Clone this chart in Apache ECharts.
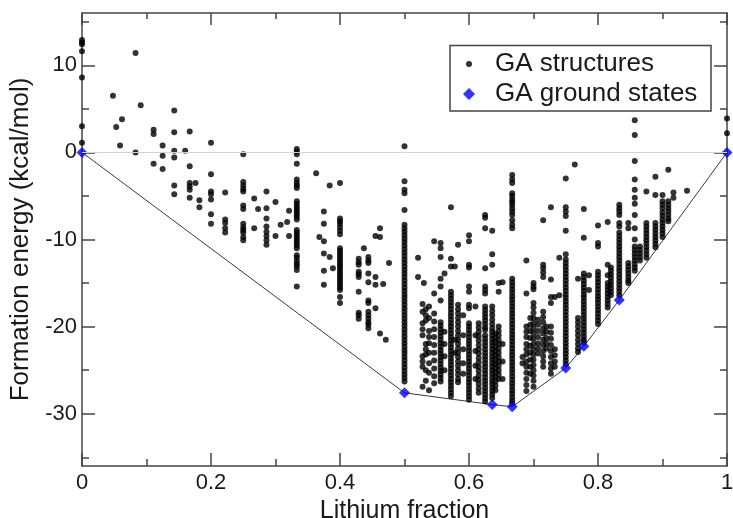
<!DOCTYPE html>
<html><head><meta charset="utf-8">
<script src="https://cdn.jsdelivr.net/npm/echarts@6/dist/echarts.min.js"></script>
<style>html,body{margin:0;padding:0;background:#fff}#c{width:733px;height:518px}</style>
</head><body><div id="c"></div>
<script>
// ---- data ----
const xTicks = [0, 0.2, 0.4, 0.6, 0.8, 1];
const yMajorTicks = [-30, -20, -10, 0, 10];
const yMinorTicks = [-35, -25, -15, -5, 5, 15];
const legendNames = ['GA structures', 'GA ground states'];

// compositions of GA structures (Li fraction)
const structX = [
  0, 0.048, 0.053, 0.059, 0.062, 0.083, 0.091, 0.111, 0.125, 0.143,
  0.16, 0.167, 0.176, 0.182, 0.2, 0.222, 0.25, 0.267, 0.273, 0.286,
  0.3, 0.308, 0.318, 0.321, 0.333, 0.363, 0.368, 0.375, 0.384, 0.389,
  0.4, 0.429, 0.437, 0.444, 0.455, 0.462, 0.467, 0.471, 0.476, 0.5,
  0.521, 0.53, 0.528, 0.533, 0.538, 0.546, 0.556, 0.562, 0.572, 0.578,
  0.583, 0.591, 0.6, 0.61, 0.615, 0.625, 0.636, 0.641, 0.646, 0.652,
  0.667, 0.683, 0.689, 0.695, 0.7, 0.707, 0.715, 0.72, 0.727, 0.733,
  0.74, 0.75, 0.764, 0.769, 0.778, 0.786, 0.8, 0.815, 0.82, 0.833,
  0.847, 0.857, 0.865, 0.875, 0.889, 0.9, 0.909, 0.917, 0.938, 1
];
// formation energies (kcal/mol) of GA structures, one list per composition
const structE = [
  [12.9, 12.6, 12.4, 11.6, 8.6, 3.0, 1.1],
  [6.5], [2.9], [0.8], [3.8], [11.4, 0.0], [5.4],
  [2.6, 2.1, -1.3],
  [0.8, -0.4, -1.9],
  [4.8, 2.3, 0.2, -0.6, -3.8, -4.8],
  [0.2],
  [2.4, -1.6, -3.5, -3.9, -4.3, -5.2],
  [-3.5],
  [-5.5, -6.3],
  [1.1, -2.5, -4.5, -4.8, -5.4, -7.1, -8.2],
  [-4.6, -7.7, -8.1, -8.7, -9.2],
  [-0.2, -3.4, -3.8, -4.2, -4.5, -6.1, -6.5, -8.2, -8.6, -8.9, -9.2, -9.7, -10.1],
  [-5.3, -8.7],
  [-6.5],
  [-4.5, -6.4, -7.6, -8.5, -9.1, -9.6, -10.1, -10.6],
  [-5.7, -9.6],
  [-8.3],
  [-8.0],
  [-6.7, -9.6],
  [0.4, 0.1, -0.2, -1.3, -3.1, -3.5, -3.8, -4.1, -5.6, -5.9, -6.2, -6.5, -6.8, -7.1, -7.4, -7.7, -8.9, -9.2, -9.5, -9.8, -10.1, -10.4, -10.7, -11.0, -11.8, -12.1, -12.5, -12.8, -13.1, -13.5, -15.4],
  [-2.4],
  [-9.7],
  [-6.8, -8.2, -10.2, -11.6, -13.6, -15.2],
  [-3.8, -12.0],
  [-13.3],
  [-3.5, -7.6, -7.9, -8.2, -8.6, -9.0, -9.4, -11.0, -11.3, -11.6, -11.9, -12.2, -12.5, -12.8, -13.1, -13.4, -13.7, -14.0, -14.3, -14.6, -14.9, -15.2, -15.5, -15.8, -16.6, -17.3],
  [-12.2, -12.6, -12.9, -13.7, -14.0, -14.3, -16.0, -18.4, -18.7, -19.1],
  [-11.0],
  [-12.0, -12.4, -12.7, -13.9, -14.9, -17.0, -17.3, -18.3, -18.7, -19.1, -19.5, -19.8, -20.2],
  [-9.6, -14.3, -15.2, -17.9],
  [-8.7, -9.7, -20.8],
  [-15.1],
  [-21.5],
  [-12.7],
  [0.7, -3.3, -4.3, -4.7, -6.6, -8.3, -8.7, -9.1, -9.5, -9.9, -10.3, -10.7, -11.1, -11.5, -11.9, -12.3, -12.7, -13.1, -13.5, -13.9, -14.3, -14.7, -15.1, -15.5, -15.9, -16.3, -16.7, -17.1, -17.5, -17.9, -18.3, -18.7, -19.1, -19.5, -19.9, -20.3, -20.7, -21.1, -21.5, -21.9, -22.3, -22.7, -23.1, -23.5, -23.9, -24.3, -24.7, -25.1, -25.5, -25.9, -26.3],
  [-12.1, -14.3],
  [-15.0],
  [-17.4, -18.3, -19.6, -20.3, -21.0, -23.4, -24.0, -24.6, -26.9],
  [-18.0, -18.7, -19.3, -22.0, -22.6, -23.2, -25.0, -26.2],
  [-17.7, -19.0, -20.5, -21.2, -21.9, -23.0, -24.2, -25.3, -27.3],
  [-10.2, -16.2, -18.5, -19.4, -20.3, -21.2, -22.1, -23.0, -23.9, -24.8, -25.7, -26.5],
  [-10.4, -11.0, -12.0, -14.5, -15.4, -17.0, -19.5, -19.9, -20.3, -20.7, -21.1, -21.5, -21.9, -22.3, -22.7, -23.1, -23.5, -23.9, -24.3, -24.7, -25.1, -25.5, -25.9, -26.3],
  [-13.9, -20.6, -22.0, -23.4, -25.0],
  [-6.3, -12.2, -13.1, -16.0, -16.4, -16.8, -17.2, -17.6, -18.0, -18.4, -18.8, -19.2, -19.6, -20.0, -20.4, -20.8, -21.2, -21.6, -22.0, -22.4, -22.8, -23.2, -23.6, -24.0, -24.4, -24.8, -25.2, -25.6, -26.0, -26.4, -26.8, -27.2, -27.6, -28.0],
  [-13.1, -21.5, -23.0],
  [-10.6, -17.5, -18.0, -18.5, -19.0, -19.5, -20.0, -20.5, -21.0, -21.5, -22.0, -22.5, -23.0, -23.5, -24.0, -24.5, -25.0, -25.5, -26.0, -26.4],
  [-18.7, -21.0, -22.6, -24.2, -25.4],
  [-9.5, -10.2, -12.9, -13.2, -15.4, -16.0, -17.5, -17.9, -19.6, -20.0, -20.4, -20.8, -21.2, -21.6, -22.0, -22.4, -22.8, -23.2, -23.6, -24.0, -24.4, -24.8, -25.2, -25.6, -26.0, -26.4, -26.8, -27.2, -27.6, -28.0, -28.4],
  [-17.7, -21.0, -22.8, -24.5, -26.0],
  [-19.6, -20.1, -20.6, -21.1, -21.6, -22.1, -22.6, -23.1, -23.6, -24.1, -24.6, -25.1, -25.6, -26.1, -26.6, -27.1, -27.6],
  [-7.2, -7.5, -8.7, -13.3, -15.4, -15.8, -16.2, -17.7, -18.1, -18.5, -18.9, -19.3, -19.7, -20.1, -20.4, -21.0, -21.4, -21.8, -22.2, -22.6, -23.0, -23.4, -23.8, -24.2, -24.6, -25.0, -25.4, -25.8, -26.2, -26.6, -27.0, -27.4, -27.8, -28.2, -28.6],
  [-9.0, -11.7, -12.9, -17.7, -18.2, -18.7, -19.2, -19.7, -20.2, -20.6, -21.0, -21.4, -21.8, -22.2, -22.6, -23.0, -23.4, -23.8, -24.2, -24.6, -25.0, -25.4, -25.8, -26.2, -26.6, -27.0, -27.4, -27.8, -28.2],
  [-20.8, -21.3, -21.8, -22.3, -22.8, -23.3, -23.8, -24.3, -24.8, -25.3, -25.8, -26.3, -26.8, -27.3],
  [-15.0, -16.0, -20.0, -20.5, -21.0, -21.5, -22.0, -22.5, -23.0, -23.5, -24.0, -24.5, -25.0, -25.5, -26.0],
  [-14.9, -22.0, -24.0, -26.0],
  [-2.6, -3.1, -3.5, -4.7, -5.0, -5.4, -5.7, -6.0, -6.4, -6.8, -7.2, -7.8, -8.3, -8.7, -14.5, -14.9, -15.3, -15.7, -16.1, -16.5, -16.9, -17.3, -17.7, -18.1, -18.5, -18.9, -19.3, -19.7, -20.1, -20.5, -20.9, -21.3, -21.7, -22.1, -22.5, -22.9, -23.3, -23.7, -24.1, -24.5, -24.9, -25.3, -25.7, -26.1, -26.5, -26.9, -27.3, -27.7, -28.1, -28.5, -28.8],
  [-23.5, -24.2],
  [-12.4, -16.2, -20.0, -20.6, -21.2, -22.0, -22.6, -23.2, -24.0, -24.6, -25.3, -26.0, -26.7, -27.4],
  [-19.0, -19.8, -20.5, -21.3, -22.2, -23.0, -23.8, -24.6, -25.4],
  [-15.0, -15.4, -15.7, -17.3, -17.8, -18.4, -19.0, -19.6, -20.2, -20.8, -21.4, -22.0, -22.6, -23.2, -23.8, -24.4, -25.0, -25.6, -26.2, -26.9],
  [-19.2, -19.8, -20.5, -21.2, -21.9, -22.5, -23.1],
  [-7.8, -12.9, -13.3, -13.8, -14.3, -18.3, -18.9, -19.5, -20.2, -20.8, -21.5, -22.1, -22.8, -23.4, -24.0, -24.6],
  [-20.0, -20.6, -21.3, -21.9, -22.5],
  [-6.3, -14.6, -16.6, -17.3, -20.0, -20.7, -21.4, -22.1, -22.8, -23.5, -24.2, -24.8, -25.4],
  [-16.6, -22.6, -23.3, -24.0, -24.6],
  [-12.1, -16.4],
  [-3.0, -6.3, -6.8, -7.3, -9.0, -11.7, -12.3, -12.7, -13.1, -13.5, -13.9, -14.3, -14.7, -15.1, -15.5, -15.9, -16.3, -16.7, -17.1, -17.5, -17.9, -18.3, -18.7, -19.1, -19.5, -19.9, -20.3, -20.7, -21.1, -21.5, -21.9, -22.3, -22.7, -23.1, -23.5, -23.9, -24.3],
  [-1.4],
  [-14.5, -19.0, -19.5, -20.0, -20.5, -21.0, -21.5, -22.0, -22.5, -22.9],
  [-6.5, -9.8, -13.9, -14.3, -14.7, -15.1, -15.5, -15.9, -16.3, -16.7, -17.1, -17.5, -17.9, -18.3, -18.7, -19.1, -19.5, -19.9, -20.3, -20.7, -21.1, -21.5, -21.8],
  [-14.1, -15.8],
  [-8.4, -10.4, -10.8, -13.7, -14.1, -14.5, -14.9, -15.3, -15.7, -16.1, -16.5, -16.9, -17.3, -17.7, -18.1, -18.5, -18.9, -19.3, -19.7],
  [-8.0, -12.9, -14.1, -15.0, -15.4, -15.8, -16.2, -16.6, -17.0, -17.4, -17.8],
  [-13.2, -13.6, -14.0, -14.4, -14.8, -15.2, -15.6, -16.0, -16.4],
  [-6.0, -6.4, -6.8, -7.2, -8.1, -8.5, -9.2, -9.6, -10.0, -10.4, -10.8, -11.2, -11.6, -12.0, -12.4, -12.8, -13.2, -13.6, -14.0, -14.4, -14.8, -15.2, -15.6, -16.0, -16.4],
  [-8.1, -8.7, -12.7, -13.1, -13.5, -13.9, -14.3, -14.7, -15.0],
  [3.7, 2.0, -1.0, -3.1, -4.3, -5.2, -5.9, -7.2, -8.7, -10.0, -10.8, -11.2, -11.6, -12.0, -12.4, -12.8, -13.2, -13.6],
  [-10.8, -11.2, -11.6, -12.0, -12.4],
  [-4.5, -8.1, -8.5, -8.9, -9.3, -9.7, -10.1, -10.5, -10.9, -11.3, -11.7, -12.1],
  [-2.8, -4.9, -8.1, -8.5, -8.9, -9.3, -9.7, -10.1, -10.5, -10.9],
  [-4.9, -5.6, -6.0, -6.4, -6.9, -7.3, -7.7, -8.1, -8.5, -8.9, -9.3, -9.7],
  [-2.0, -5.6, -6.0, -6.4, -6.8, -7.2, -7.6, -7.9],
  [-4.6, -5.2],
  [-4.4],
  [3.9, 2.2]
];

// GA ground states (convex hull vertices)
const groundX = [0, 0.5, 0.636, 0.667, 0.75, 0.778, 0.833, 1];
const groundE = [0, -27.6, -28.95, -29.2, -24.75, -22.25, -16.95, 0];

// ---- build chart ----
const structData = [];
structX.forEach((x, i) => structE[i].forEach(e => structData.push([x, e])));
const groundData = groundX.map((x, i) => [x, groundE[i]]);

const FONT = '"Liberation Sans", Arial, Helvetica, sans-serif';
const lineSt = { color: '#444', width: 1.5 };
const TXT = '#1a1a1a';

function xAx(pos, major, minor, labels) {
  return {
    type: 'value', position: pos, min: 0, max: 1, interval: 0.2,
    axisLine: { show: true, onZero: false, lineStyle: lineSt },
    axisTick: { show: true, inside: true, length: major, lineStyle: lineSt },
    minorTick: { show: true, splitNumber: 2, length: minor, lineStyle: lineSt },
    axisLabel: labels ? { show: true, fontSize: 22, color: TXT, margin: 6, fontFamily: FONT,
      customValues: xTicks, hideOverlap: false } : { show: false },
    splitLine: { show: false }, minorSplitLine: { show: false }
  };
}
function yAx(pos, ticks, len, line, labels) {
  return {
    type: 'value', position: pos, min: -36, max: 16, offset: 0,
    axisLine: { show: line, onZero: false, lineStyle: lineSt },
    axisTick: { show: true, inside: true, length: len, lineStyle: lineSt, customValues: ticks },
    axisLabel: labels ? { show: true, fontSize: 22, color: TXT, margin: 5, fontFamily: FONT, customValues: ticks }
                      : { show: false, customValues: ticks },
    splitLine: { show: false }
  };
}

const xMain = xAx('bottom', 13, 7, true);
xMain.name = 'Lithium fraction';
xMain.nameLocation = 'middle';
xMain.nameGap = 27;
xMain.nameTextStyle = { fontSize: 25, color: TXT, fontFamily: FONT };

const yMain = yAx('left', yMajorTicks, 13, true, true);
yMain.name = 'Formation energy (kcal/mol)';
yMain.nameLocation = 'middle';
yMain.nameGap = 40;
yMain.nameRotate = 90;
yMain.nameTextStyle = { fontSize: 26, color: TXT, fontFamily: FONT };

const option = {
  animation: false,
  backgroundColor: '#fff',
  textStyle: { fontFamily: FONT },
  grid: { left: 82, right: 6, top: 13, bottom: 52, containLabel: false, outerBoundsMode: 'none' },
  xAxis: [xMain, xAx('top', 12, 6, false)],
  yAxis: [
    yMain,
    yAx('left', yMinorTicks, 7, false, false),
    yAx('right', yMajorTicks, 13, true, false),
    yAx('right', yMinorTicks, 7, false, false)
  ],
  legend: [
    { data: [{ name: legendNames[0], icon: 'circle' }], left: 466, top: 51, padding: 0,
      itemWidth: 6, itemHeight: 6, itemGap: 0, z: 8,
      textStyle: { fontSize: 26, color: TXT, fontFamily: FONT, padding: [0, 0, 0, 18] } },
    { data: [{ name: legendNames[1], icon: 'diamond' }], left: 463, top: 81, padding: 0,
      itemWidth: 12, itemHeight: 12, itemGap: 0, z: 8,
      textStyle: { fontSize: 26, color: TXT, fontFamily: FONT, padding: [0, 0, 0, 15] } }
  ],
  graphic: [{
    type: 'rect', z: 7, silent: true,
    shape: { x: 450, y: 45.5, width: 261, height: 65.5 },
    style: { fill: '#fff', stroke: '#444', lineWidth: 1.5 }
  }],
  series: [
    {
      name: 'hull', type: 'line', data: groundData, xAxisIndex: 0, yAxisIndex: 0,
      symbol: 'none', lineStyle: { color: '#3a3a3a', width: 1 }, z: 1, silent: true,
      markLine: {
        silent: true, symbol: 'none', label: { show: false },
        lineStyle: { color: '#d2d2d2', type: 'solid', width: 1 },
        data: [{ yAxis: 0 }]
      }
    },
    {
      name: legendNames[0], type: 'scatter', data: structData, xAxisIndex: 0, yAxisIndex: 0,
      symbol: 'circle', symbolSize: 6, itemStyle: { color: '#000' }, z: 2, silent: true
    },
    {
      name: legendNames[1], type: 'scatter', data: groundData, xAxisIndex: 0, yAxisIndex: 0,
      symbol: 'diamond', symbolSize: 11, itemStyle: { color: '#0000ff' }, z: 3, silent: true
    }
  ]
};
const chart = echarts.init(document.getElementById('c'), null, { renderer: 'canvas' });
chart.setOption(option);
</script>
</body></html>
